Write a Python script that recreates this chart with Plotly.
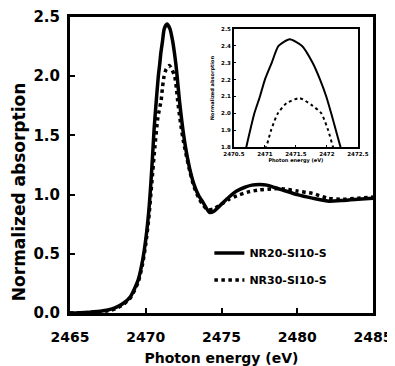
import plotly.graph_objects as go

# ---- data ----
energy_nr20 = [2465.0, 2466.0, 2467.0, 2467.5, 2468.0, 2468.5, 2469.0, 2469.5, 2469.8, 2470.0,
               2470.2, 2470.4, 2470.55, 2470.7, 2470.83, 2470.92, 2471.0, 2471.11, 2471.22, 2471.4,
               2471.6, 2471.77, 2471.89, 2471.99, 2472.07, 2472.22, 2472.4, 2472.6, 2472.9, 2473.2,
               2473.5, 2473.8, 2474.2, 2474.5, 2475.0, 2475.5, 2476.0, 2476.5, 2477.0, 2477.5,
               2478.0, 2478.5, 2479.0, 2480.0, 2481.0, 2482.0, 2483.0, 2484.0, 2485.0]
absorb_nr20 = [0.0, 0.005, 0.015, 0.025, 0.045, 0.08, 0.14, 0.28, 0.45, 0.62,
               0.86, 1.22, 1.55, 1.80, 2.00, 2.10, 2.20, 2.30, 2.40, 2.44,
               2.40, 2.30, 2.20, 2.10, 2.00, 1.80, 1.60, 1.42, 1.22, 1.08,
               0.99, 0.93, 0.85, 0.86, 0.92, 0.98, 1.03, 1.06, 1.08, 1.085,
               1.08, 1.06, 1.04, 1.00, 0.97, 0.945, 0.95, 0.96, 0.97]

energy_nr30 = [2465.0, 2466.0, 2467.0, 2467.5, 2468.0, 2468.5, 2469.0, 2469.5, 2469.8, 2470.0,
               2470.2, 2470.4, 2470.6, 2470.8, 2471.02, 2471.1, 2471.21, 2471.35, 2471.56, 2471.75,
               2471.91, 2472.02, 2472.1, 2472.3, 2472.5, 2472.9, 2473.2, 2473.5, 2473.8, 2474.1,
               2474.5, 2475.0, 2475.5, 2476.0, 2476.7, 2477.5, 2478.5, 2479.0, 2480.0, 2481.0,
               2482.0, 2483.0, 2484.0, 2485.0]
absorb_nr30 = [0.0, 0.003, 0.01, 0.018, 0.035, 0.07, 0.13, 0.26, 0.42, 0.58,
               0.80, 1.10, 1.40, 1.65, 1.80, 1.90, 2.00, 2.06, 2.09, 2.05,
               2.00, 1.90, 1.80, 1.60, 1.44, 1.20, 1.06, 0.97, 0.91, 0.87,
               0.88, 0.92, 0.96, 0.99, 1.02, 1.04, 1.05, 1.05, 1.03, 1.01,
               0.97, 0.96, 0.97, 0.98]

series_names = ["NR20-SI10-S", "NR30-SI10-S"]
main_x_ticks = [2465, 2470, 2475, 2480, 2485]
main_y_ticks = [0.0, 0.5, 1.0, 1.5, 2.0, 2.5]
inset_x_ticks = [2470.5, 2471, 2471.5, 2472, 2472.5]
inset_x_labels = ["2470.5", "2471", "2471.5", "2472", "2472.5"]
inset_y_ticks = [1.8, 1.9, 2.0, 2.1, 2.2, 2.3, 2.4, 2.5]

FONT = "DejaVu Sans"

fig = go.Figure()
# main plot
fig.add_trace(go.Scatter(x=energy_nr20, y=absorb_nr20, mode="lines", name=series_names[0],
                         legendgroup="a",
                         line=dict(color="black", width=3.5, shape="spline", smoothing=0.6)))
fig.add_trace(go.Scatter(x=energy_nr30, y=absorb_nr30, mode="lines", name=series_names[1],
                         legendgroup="b",
                         line=dict(color="black", width=3.5, dash="dot", shape="spline", smoothing=0.6)))
# inset
fig.add_trace(go.Scatter(x=energy_nr20, y=absorb_nr20, mode="lines", showlegend=False,
                         xaxis="x2", yaxis="y2",
                         line=dict(color="black", width=2, shape="spline", smoothing=0.6)))
fig.add_trace(go.Scatter(x=energy_nr30, y=absorb_nr30, mode="lines", showlegend=False,
                         xaxis="x2", yaxis="y2",
                         line=dict(color="black", width=2, dash="dot", shape="spline", smoothing=0.6)))

axis_common = dict(showgrid=False, zeroline=False, showline=True, linecolor="black",
                   mirror=True, ticks="inside", tickcolor="black", automargin=False)

# the page body adds an 8 px offset, so the figure is drawn 8 px smaller
fig.update_layout(
    width=387, height=358,
    margin=dict(l=62, r=22, t=9, b=53),
    paper_bgcolor="white", plot_bgcolor="white",
    showlegend=True,
    legend=dict(x=0.46, y=0.252, xanchor="left", yanchor="top",
                bgcolor="rgba(0,0,0,0)", borderwidth=0,
                font=dict(family=FONT, size=11, color="black", weight="bold"),
                tracegroupgap=8, itemwidth=30),
    xaxis=dict(range=[2465, 2485], tickvals=main_x_ticks, linewidth=3, ticklen=5, tickwidth=2,
               tickfont=dict(family=FONT, size=14, color="black", weight="bold"),
               ticklabelstandoff=9,
               title=dict(text="Photon energy (eV)", standoff=10,
                          font=dict(family=FONT, size=14, color="black", weight="bold")),
               **axis_common),
    yaxis=dict(range=[0, 2.5], tickvals=main_y_ticks, tickformat=".1f", linewidth=3, ticklen=5, tickwidth=2,
               tickfont=dict(family=FONT, size=15, color="black", weight="bold"),
               ticklabelstandoff=4,
               **axis_common),
    xaxis2=dict(domain=[0.541, 0.950], anchor="y2", range=[2470.5, 2472.5],
                tickvals=inset_x_ticks, ticktext=inset_x_labels, linewidth=2, ticklen=2, tickwidth=1,
                tickfont=dict(family=FONT, size=5.5, color="black", weight="bold"),
                title=dict(text="Photon energy (eV)", standoff=3,
                           font=dict(family=FONT, size=5, color="black", weight="bold")),
                **axis_common),
    yaxis2=dict(domain=[0.561, 0.959], anchor="x2", range=[1.8, 2.5],
                tickvals=inset_y_ticks, tickformat=".1f", linewidth=2, ticklen=2, tickwidth=1,
                tickfont=dict(family=FONT, size=5.5, color="black", weight="bold"),
                title=dict(text="Normalized absorption", standoff=6,
                           font=dict(family=FONT, size=5, color="black", weight="bold")),
                **axis_common),
    annotations=[dict(text="Normalized absorption", textangle=-90, xref="paper", yref="paper",
                      x=-0.17, y=0.41, xanchor="center", yanchor="middle", showarrow=False,
                      font=dict(family=FONT, size=17, color="black", weight="bold"))],
)

fig.write_html("out.html")
